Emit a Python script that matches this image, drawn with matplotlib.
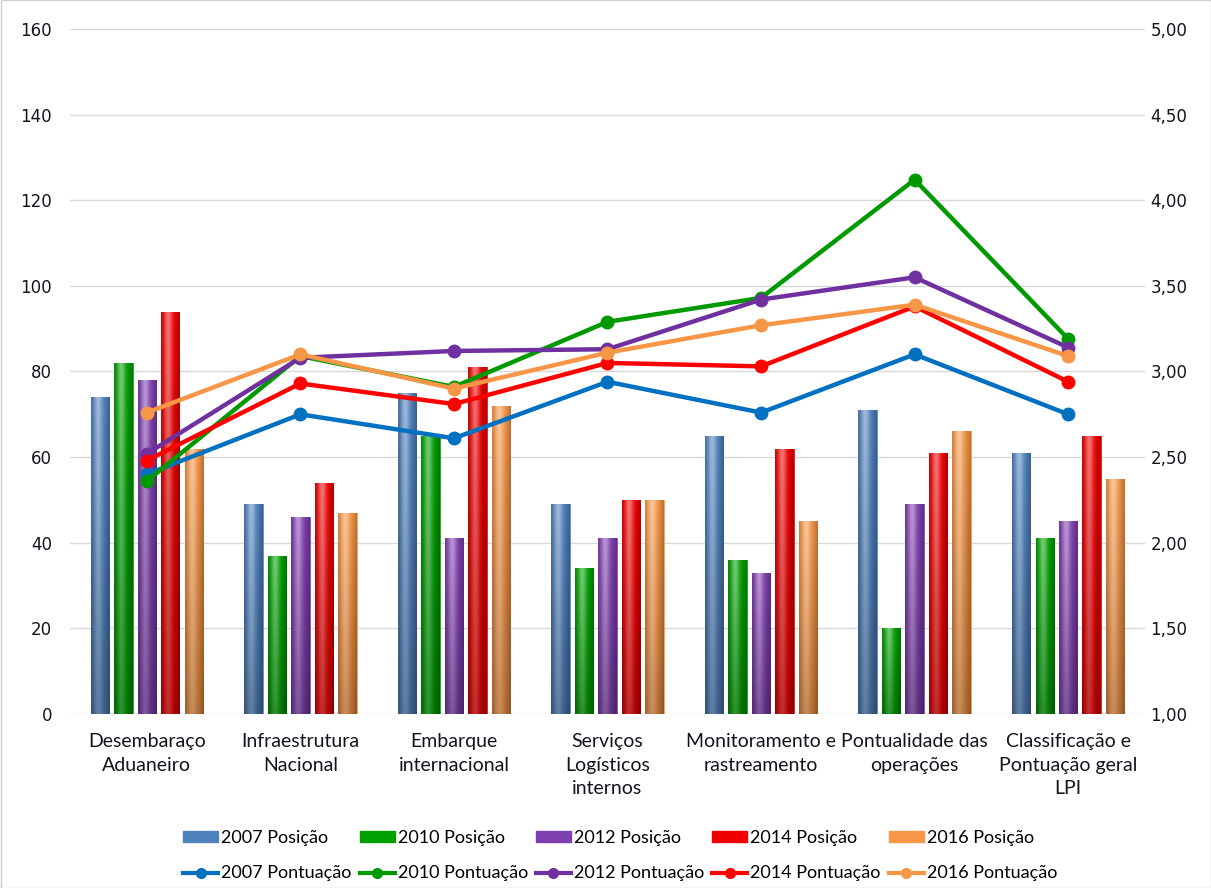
import numpy as np
import matplotlib
matplotlib.use("Agg")
import matplotlib.pyplot as plt
from matplotlib.lines import Line2D
from matplotlib.patches import Patch
from matplotlib.colors import to_rgb
from matplotlib.ticker import FuncFormatter, MultipleLocator

categories = ["Desembaraço\nAduaneiro", "Infraestrutura\nNacional", "Embarque\ninternacional",
              "Serviços\nLogísticos\ninternos", "Monitoramento e\nrastreamento",
              "Pontualidade das\noperações", "Classificação e\nPontuação geral\nLPI"]
years = ["2007", "2010", "2012", "2014", "2016"]

pos_2007 = [74, 49, 75, 49, 65, 71, 61]
pos_2010 = [82, 37, 65, 34, 36, 20, 41]
pos_2012 = [78, 46, 41, 41, 33, 49, 45]
pos_2014 = [94, 54, 81, 50, 62, 61, 65]
pos_2016 = [62, 47, 72, 50, 45, 66, 55]

pont_2007 = [2.40, 2.75, 2.61, 2.94, 2.76, 3.10, 2.75]
pont_2010 = [2.36, 3.09, 2.91, 3.29, 3.43, 4.12, 3.19]
pont_2012 = [2.52, 3.08, 3.12, 3.13, 3.42, 3.55, 3.14]
pont_2014 = [2.48, 2.93, 2.81, 3.05, 3.03, 3.38, 2.94]
pont_2016 = [2.76, 3.10, 2.90, 3.11, 3.27, 3.39, 3.09]

positions = [pos_2007, pos_2010, pos_2012, pos_2014, pos_2016]
scores = [pont_2007, pont_2010, pont_2012, pont_2014, pont_2016]

bar_colors = ["#4F81BD", "#00A000", "#7F3FB0", "#F00000", "#F79646"]
line_colors = ["#0070C0", "#009A00", "#7030A0", "#FF0000", "#F79646"]

TEXT_FONT = ["Lato", "DejaVu Sans"]
TICK_COLOR = "#141420"

fig = plt.figure(figsize=(12.11, 8.88), dpi=100)
fig.patch.set_facecolor("white")
ax = fig.add_axes([70 / 1211, 1 - 714 / 888, (1145 - 70) / 1211, (714 - 29) / 888])
ax2 = ax.twinx()

x = np.arange(len(categories))
spacing = 0.153
width = 0.12


def gradient_fill(axis, rect, color):
    x0 = rect.get_x()
    w = rect.get_width()
    h = rect.get_height()
    nx, ny = 60, 120
    xs = np.linspace(0, 1, nx)
    ys = np.linspace(0, 1, ny)
    base = np.array(to_rgb(color))
    hl = 0.45 * np.exp(-((xs - 0.38) / 0.22) ** 2)
    edge = 1 - 0.25 * (np.abs(xs - 0.45) / 0.55) ** 2
    vert = 0.75 + 0.25 * ys
    img = base[None, None, :] * (edge[None, :, None] * vert[:, None, None])
    img = img + (1 - img) * (hl[None, :, None] * (0.4 + 0.6 * ys[:, None, None]))
    img = np.clip(img, 0, 1)
    im = axis.imshow(img, extent=[x0, x0 + w, 0, h], origin="lower", aspect="auto",
                     zorder=2.1, interpolation="bilinear")
    im.set_clip_path(rect)


for i, (vals, col) in enumerate(zip(positions, bar_colors)):
    bars = ax.bar(x + (i - 2) * spacing, vals, width, color=col, zorder=2,
                  edgecolor=col, linewidth=0.5)
    for r in bars:
        gradient_fill(ax, r, col)

for i, (vals, col) in enumerate(zip(scores, line_colors)):
    ax2.plot(x, vals, color=col, linewidth=3.2, marker="o", markersize=9,
             markerfacecolor=col, markeredgecolor=col, zorder=3 + i)

ax.set_xlim(-0.5, len(categories) - 0.5)
ax.set_ylim(0, 160)
ax2.set_ylim(1, 5)
ax.yaxis.set_major_locator(MultipleLocator(20))
ax2.yaxis.set_major_locator(MultipleLocator(0.5))
ax2.yaxis.set_major_formatter(FuncFormatter(lambda v, p: f"{v:.2f}".replace(".", ",")))

ax.grid(axis="y", color="#D9D9D9", linewidth=1.0, zorder=0)
ax.set_axisbelow(True)
for a in (ax, ax2):
    for s in a.spines.values():
        s.set_visible(False)
ax.tick_params(axis="y", length=0, pad=13, labelsize=12, labelcolor=TICK_COLOR)
ax2.tick_params(axis="y", length=0, pad=4, labelsize=12, labelcolor=TICK_COLOR)
ax.set_xticks(x)
ax.set_xticklabels(categories, fontsize=14, family=TEXT_FONT, color=TICK_COLOR, linespacing=1.45)
ax.tick_params(axis="x", length=0, pad=14)
for lab in ax.get_yticklabels() + ax2.get_yticklabels():
    lab.set_family("DejaVu Sans")

handles = []
labels = []
for i, y in enumerate(years):
    handles.append(Patch(facecolor=bar_colors[i], edgecolor=bar_colors[i]))
    labels.append(f"{y} Posição")
    handles.append(Line2D([], [], color=line_colors[i], linewidth=3, marker="o",
                          markersize=7, markerfacecolor=line_colors[i]))
    labels.append(f"{y} Pontuação")

fig.legend(handles, labels, ncol=5, loc="center", bbox_to_anchor=(0.512, 1 - 855.5 / 888),
           frameon=False, prop={"family": TEXT_FONT, "size": 13}, handlelength=1.95,
           handleheight=0.55, handletextpad=0.15, columnspacing=0.45, labelspacing=1.1)

fig.add_artist(plt.Rectangle((0.5 / 1211, 0.5 / 888), 1 - 1 / 1211, 1 - 1 / 888,
                             transform=fig.transFigure, fill=False, edgecolor="#D0D0D0",
                             linewidth=1))

fig.savefig("out.png", dpi=100, facecolor="white")
